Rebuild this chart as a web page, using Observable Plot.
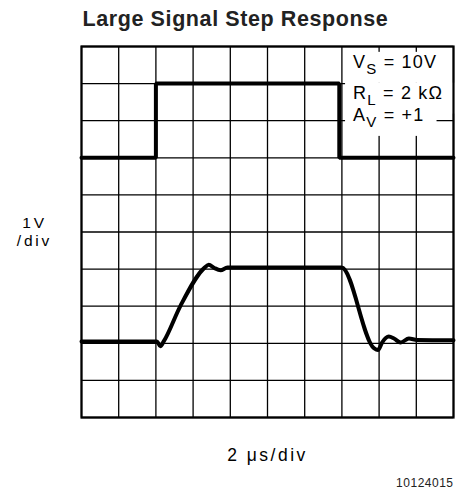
<!DOCTYPE html>
<html>
<head>
<meta charset="utf-8">
<script src="https://cdn.jsdelivr.net/npm/d3@7"></script>
<script src="https://cdn.jsdelivr.net/npm/@observablehq/plot@0.6"></script>
<style>
  html, body { margin: 0; padding: 0; background: white; }
</style>
</head>
<body>
<div id="chart"></div>
<script>
// Grid divisions (10 x 10)
const xDivisions = [0, 1, 2, 3, 4, 5, 6, 7, 8, 9, 10];
const yDivisions = [0, 1, 2, 3, 4, 5, 6, 7, 8, 9, 10];

// Input step (time in divisions, level in divisions)
const inputTime  = [0, 2.0, 2.0, 6.93, 6.93, 10];
const inputLevel = [7, 7,   9,   9,    7,    7];

// Output response
const outputTime  = [0, 2.03, 2.12, 2.21, 2.66, 3.31, 3.42, 3.57, 3.74, 3.92, 6.99, 7.86, 7.97, 8.08, 8.26, 8.40, 8.58, 8.80, 9.02, 10];
const outputLevel = [2.05, 2.05, 1.92, 2.05, 3.01, 4.04, 4.12, 4.03, 3.97, 4.04, 4.04, 1.87, 1.82, 2.02, 2.18, 2.13, 2.02, 2.13, 2.09, 2.08];

// Test conditions
const condSymbols = ["V", "R", "A"];
const condSubs    = ["S", "L", "V"];
const condValues  = ["= 10V", "= 2 k\u03A9", "= +1"];

// Texts
const titleText = "Large Signal Step Response";
const yLabel = "1V\n/div";
const xLabel = "2 \u03BCs/div";
const figId = "10124015";

const inputData = inputTime.map((t, i) => ({t, v: inputLevel[i]}));
const outputData = outputTime.map((t, i) => ({t, v: outputLevel[i]}));
const condData = condSymbols.map((s, i) => ({i, s, sub: condSubs[i], val: condValues[i]}));
const condY = [9.58, 8.75, 8.15];

const plot = Plot.plot({
  width: 461,
  height: 491,
  marginLeft: 81,
  marginRight: 8,
  marginTop: 46,
  marginBottom: 74,
  x: {domain: [0, 10], axis: null},
  y: {domain: [0, 10], axis: null},
  style: {fontFamily: "'Liberation Sans', Arial, sans-serif", background: "white", overflow: "visible", color: "black"},
  marks: [
    Plot.ruleX(xDivisions, {stroke: "black", strokeWidth: 1.3}),
    Plot.ruleY(yDivisions, {stroke: "black", strokeWidth: 1.3}),
    Plot.line(inputData, {x: "t", y: "v", stroke: "black", strokeWidth: 4, strokeLinejoin: "miter"}),
    Plot.line(outputData, {x: "t", y: "v", stroke: "black", strokeWidth: 4, curve: "monotone-x"}),
    Plot.text(condData, {
      x: 7.3,
      y: d => condY[d.i],
      text: d => `${d.s}|${d.sub}|${d.val}`,
      textAnchor: "start",
      lineAnchor: "middle",
      fontSize: 18,
      fill: "black"
    }),
    Plot.frame({stroke: "black", strokeWidth: 2.2}),
    Plot.text([titleText], {
      frameAnchor: "top-left",
      text: d => d,
      textAnchor: "start",
      lineAnchor: "middle",
      dx: 1,
      dy: -27,
      fontSize: 21.5,
      fontWeight: "bold",
      fill: "#222"
    }),
    Plot.text([yLabel], {
      frameAnchor: "left",
      text: d => d,
      textAnchor: "middle",
      lineAnchor: "middle",
      lineHeight: 1.15,
      dx: -47,
      dy: -1,
      fontSize: 15.5,
      fill: "black"
    }),
    Plot.text([xLabel], {
      frameAnchor: "bottom",
      text: d => d,
      textAnchor: "middle",
      lineAnchor: "middle",
      dy: 38,
      fontSize: 17.5,
      fill: "black"
    }),
    Plot.text([figId], {
      frameAnchor: "bottom-right",
      text: d => d,
      textAnchor: "end",
      lineAnchor: "middle",
      dy: 66,
      fontSize: 12,
      fill: "#222"
    })
  ]
});

document.getElementById("chart").appendChild(plot);

const ns = "http://www.w3.org/2000/svg";
const legendTexts = [];
plot.querySelectorAll("text").forEach(el => {
  const s = el.textContent;
  if (s === titleText) el.setAttribute("letter-spacing", "0.6");
  if (s === xLabel) el.setAttribute("letter-spacing", "2.5");
  if (s === figId) el.setAttribute("letter-spacing", "0.5");
  if (s.replace(/\s/g, "") === yLabel.replace(/\s/g, "")) el.setAttribute("letter-spacing", "2.8");
  if (!s.includes("|")) return;
  // Turn "X|sub|rest" labels into subscripted text
  const [sym, sub, rest] = s.split("|");
  el.textContent = "";
  el.setAttribute("letter-spacing", "1.2");
  const t1 = document.createElementNS(ns, "tspan");
  t1.textContent = sym;
  const t2 = document.createElementNS(ns, "tspan");
  t2.textContent = sub;
  t2.setAttribute("dy", "6");
  t2.setAttribute("font-size", "15");
  const t3 = document.createElementNS(ns, "tspan");
  t3.textContent = " " + rest;
  t3.setAttribute("dy", "-6");
  el.appendChild(t1); el.appendChild(t2); el.appendChild(t3);
  legendTexts.push(el);
});

// White masks behind the legend rows (sized from each text's own box,
// placed in the same transformed space as the text)
legendTexts.forEach(el => {
  const b = el.getBBox();
  const r = document.createElementNS(ns, "rect");
  r.setAttribute("x", b.x - 8);
  r.setAttribute("y", b.y);
  r.setAttribute("width", b.width + 20);
  r.setAttribute("height", b.height + 6);
  r.setAttribute("fill", "white");
  const tr = el.getAttribute("transform");
  if (tr) r.setAttribute("transform", tr);
  const g = el.parentNode;
  g.insertBefore(r, g.firstChild);
});
</script>
</body>
</html>
